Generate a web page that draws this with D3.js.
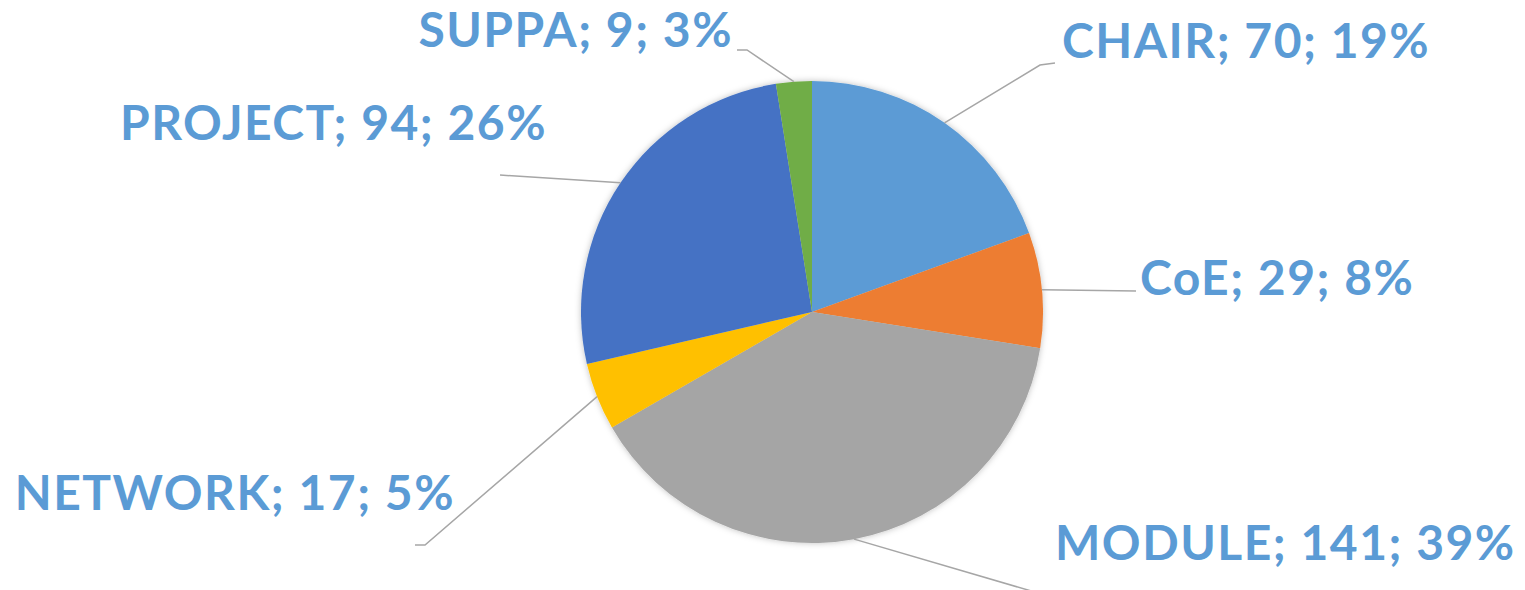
<!DOCTYPE html>
<html>
<head>
<meta charset="utf-8">
<script src="https://cdn.jsdelivr.net/npm/d3@7"></script>
<style>
  body { margin: 0; background: #fff; }
  svg { display: block; }
</style>
</head>
<body>
<svg id="chart" width="1525" height="590"></svg>
<script>
const categories = ["CHAIR", "CoE", "MODULE", "NETWORK", "PROJECT", "SUPPA"];
const counts = [70, 29, 141, 17, 94, 9];
const colors = ["#5B9BD5", "#ED7D31", "#A5A5A5", "#FFC000", "#4472C4", "#70AD47"];

const width = 1525;
const height = 590;
const cx = 812;
const cy = 312;
const radius = 231;

// label placement relative to pie center: leader bend points, text anchor point
const labelLayout = {
  CHAIR:   { pts: [[228, -247], [243, -249]], text: [250, -254], anchor: "start" },
  CoE:     { pts: [[324, -21]], text: [328, -17], anchor: "start" },
  MODULE:  { pts: [[233, 283]], text: [243, 248], anchor: "start" },
  NETWORK: { pts: [[-387, 233], [-397, 233]], text: [-357, 198], anchor: "end" },
  PROJECT: { pts: [[-312, -137]], text: [-265, -172], anchor: "end" },
  SUPPA:   { pts: [[-65, -262], [-75, -262]], text: [-79, -265], anchor: "end" }
};

const data = categories.map((c, i) => ({ name: c, value: counts[i], color: colors[i] }));
const total = d3.sum(counts);

const svg = d3.select("#chart");

const defs = svg.append("defs");
const shadow = defs.append("filter").attr("id", "soft")
  .attr("x", "-10%").attr("y", "-10%").attr("width", "120%").attr("height", "120%");
shadow.append("feDropShadow")
  .attr("dx", 0).attr("dy", 0)
  .attr("stdDeviation", 3)
  .attr("flood-color", "#000")
  .attr("flood-opacity", 0.25);

const pie = d3.pie().sort(null).value((d) => d.value);
const arcs = pie(data);

const arc = d3.arc().innerRadius(0).outerRadius(radius);

const g = svg.append("g").attr("transform", `translate(${cx}, ${cy})`);

g.append("g")
  .attr("filter", "url(#soft)")
  .selectAll("path")
  .data(arcs)
  .join("path")
  .attr("d", arc)
  .attr("fill", (d) => d.data.color);

// leader lines
const line = d3.line();
g.selectAll("path.leader")
  .data(arcs)
  .join("path")
  .attr("class", "leader")
  .attr("fill", "none")
  .attr("stroke", "#A6A6A6")
  .attr("stroke-width", 1.5)
  .attr("d", (d) => {
    const mid = (d.startAngle + d.endAngle) / 2;
    const start = [Math.sin(mid) * radius, -Math.cos(mid) * radius];
    return line([start, ...labelLayout[d.data.name].pts]);
  });

// labels
g.selectAll("text.lbl")
  .data(arcs)
  .join("text")
  .attr("class", "lbl")
  .attr("x", (d) => labelLayout[d.data.name].text[0])
  .attr("y", (d) => labelLayout[d.data.name].text[1])
  .attr("text-anchor", (d) => labelLayout[d.data.name].anchor)
  .attr("fill", "#5B9BD5")
  .style("font-family", "Lato, 'Open Sans', sans-serif")
  .style("font-weight", "bold")
  .style("font-size", "48px")
  .style("letter-spacing", "1.5px")
  .text((d) => `${d.data.name}; ${d.data.value}; ${Math.round((d.data.value / total) * 100)}%`);
</script>
</body>
</html>
